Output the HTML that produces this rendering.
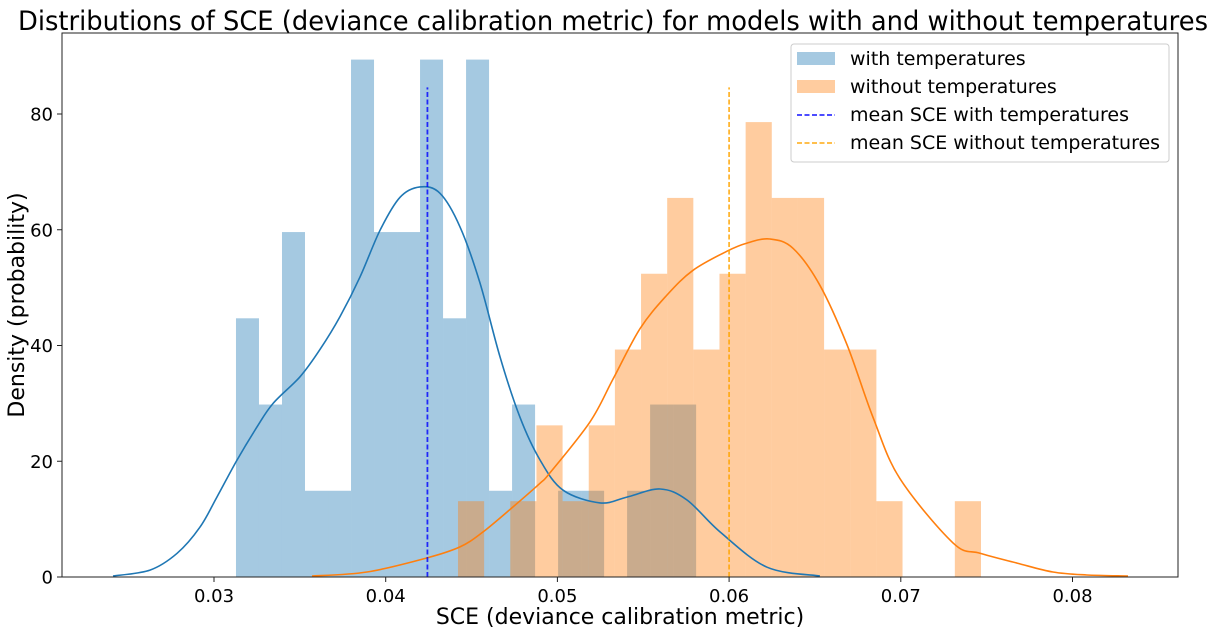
<!DOCTYPE html>
<html><head><meta charset="utf-8">
<style>
html,body{margin:0;padding:0;background:#fff;width:1229px;height:634px;overflow:hidden}
svg{display:block;font-family:"DejaVu Sans","Liberation Sans",sans-serif}
</style></head>
<body>
<svg id="chart" width="1229" height="634" viewBox="0 0 1229 634" xmlns="http://www.w3.org/2000/svg">
  <text x="613" y="30" font-size="27" text-anchor="middle" textLength="1190" lengthAdjust="spacingAndGlyphs" fill="#000">Distributions of SCE (deviance calibration metric) for models with and without temperatures</text>
  <g id="plot"></g>
  <text x="620" y="624" font-size="22" text-anchor="middle" fill="#000">SCE (deviance calibration metric)</text>
  <text x="0" y="0" font-size="22" text-anchor="middle" fill="#000" transform="translate(24,305) rotate(-90)">Density (probability)</text>
  <g>
    <rect x="791" y="44" width="378" height="118" rx="3" fill="#fff" fill-opacity="0.8" stroke="#ccc" stroke-width="1"/>
    <rect x="797" y="52" width="38" height="13" fill="#1f77b4" fill-opacity="0.4"/>
    <text x="850" y="65" font-size="19">with temperatures</text>
    <rect x="797" y="80" width="38" height="13" fill="#ff7f0e" fill-opacity="0.4"/>
    <text x="850" y="93" font-size="19">without temperatures</text>
    <line x1="797" y1="115" x2="835" y2="115" stroke="blue" stroke-width="1.8" stroke-dasharray="5,2.5" opacity="0.8"/>
    <text x="850" y="121" font-size="19">mean SCE with temperatures</text>
    <line x1="797" y1="143" x2="835" y2="143" stroke="orange" stroke-width="1.8" stroke-dasharray="5,2.5" opacity="0.8"/>
    <text x="850" y="149" font-size="19">mean SCE without temperatures</text>
  </g>
</svg>
<script>
const blueStart = 0.03128;
const blueBinWidth = 0.00134;
const blueHeights = [44.7,29.8,59.6,14.9,14.9,89.4,59.6,59.6,89.4,44.7,89.4,14.9,29.8,0,14.9,14.9,0,14.9,29.8,29.8];
const orangeStart = 0.04421;
const orangeBinWidth = 0.001523;
const orangeHeights = [13.1,0,13.1,26.2,13.1,26.2,39.3,52.4,65.5,39.3,52.4,78.6,65.5,65.5,39.3,39.3,13.1,0,0,13.1];
const blueKdeX = [0.02412,0.02627,0.02785,0.02918,0.03017,0.03134,0.03250,0.03344,0.03501,0.03617,0.03734,0.03850,0.03967,0.04083,0.04200,0.04316,0.04433,0.04549,0.04666,0.04782,0.04899,0.05033,0.05248,0.05405,0.05598,0.05755,0.05947,0.06221,0.06529];
const blueKdeY = [0.17,1.2,4.1,8.6,13.8,20.2,25.9,30.0,34.6,39.3,45.0,51.8,59.9,65.6,67.4,66.3,60.5,50.8,38.0,27.6,20.2,15.0,12.8,13.8,15.2,13.3,7.8,1.7,0.17];
const orangeKdeX = [0.03571,0.03891,0.04241,0.04433,0.04567,0.04741,0.04899,0.04957,0.05190,0.05324,0.05481,0.05638,0.05790,0.05988,0.06104,0.06238,0.06372,0.06529,0.06687,0.06838,0.06995,0.07304,0.07461,0.07677,0.07886,0.08084,0.08323];
const orangeKdeY = [0.17,0.86,3.3,5.2,7.8,12.1,16.2,18.0,26.8,34.2,42.9,48.7,53.0,56.3,57.7,58.4,56.8,50.4,40.1,27.6,17.0,5.9,4.1,2.4,0.86,0.35,0.17];
const meanWith = 0.04243;
const meanWithout = 0.06;
const meanLineTop = 84.6;
const xTicks = [0.03,0.04,0.05,0.06,0.07,0.08];
const xTickLabels = ["0.03","0.04","0.05","0.06","0.07","0.08"];
const yTicks = [0,20,40,60,80];
const yTickLabels = ["0","20","40","60","80"];

const L=62,R=1178,T=33,B=577;
function xs(v){return 214+(v-0.03)*17170;}
function ys(v){return B-v*5.7875;}
const NS="http://www.w3.org/2000/svg";
const g=document.getElementById('plot');
function mk(tag,attrs){const e=document.createElementNS(NS,tag);for(const k in attrs)e.setAttribute(k,attrs[k]);g.appendChild(e);return e;}

blueHeights.forEach((h,i)=>{
  const x0=xs(blueStart+i*blueBinWidth),x1=xs(blueStart+(i+1)*blueBinWidth);
  const r=mk('rect',{x:x0,y:ys(h),width:x1-x0,height:B-ys(h),fill:'#1f77b4','fill-opacity':0.4});
  
  
});
orangeHeights.forEach((h,i)=>{
  const x0=xs(orangeStart+i*orangeBinWidth),x1=xs(orangeStart+(i+1)*orangeBinWidth);
  const r=mk('rect',{x:x0,y:ys(h),width:x1-x0,height:B-ys(h),fill:'#ff7f0e','fill-opacity':0.4});
  
  
});
function kde(xa,ya,color,name){
  const P=xa.map((x,i)=>[xs(x),ys(ya[i])]);
  let d='M'+P[0][0].toFixed(1)+','+P[0][1].toFixed(1);
  for(let i=0;i<P.length-1;i++){
    const p0=P[Math.max(i-1,0)],p1=P[i],p2=P[i+1],p3=P[Math.min(i+2,P.length-1)];
    const c1=[p1[0]+(p2[0]-p0[0])/6,p1[1]+(p2[1]-p0[1])/6];
    const c2=[p2[0]-(p3[0]-p1[0])/6,p2[1]-(p3[1]-p1[1])/6];
    d+=' C'+c1[0].toFixed(1)+','+c1[1].toFixed(1)+' '+c2[0].toFixed(1)+','+c2[1].toFixed(1)+' '+p2[0].toFixed(1)+','+p2[1].toFixed(1);
  }
  const p=mk('path',{d:d,fill:'none',stroke:color,'stroke-width':1.6,'stroke-linejoin':'round'});
  
  
}
kde(blueKdeX,blueKdeY,'#1f77b4','kde-with-temperatures');
kde(orangeKdeX,orangeKdeY,'#ff7f0e','kde-without-temperatures');
const m1=mk('line',{x1:xs(meanWith),x2:xs(meanWith),y1:B,y2:ys(meanLineTop),stroke:'blue','stroke-width':1.8,'stroke-dasharray':'5,2.5',opacity:0.8});


const m2=mk('line',{x1:xs(meanWithout),x2:xs(meanWithout),y1:B,y2:ys(meanLineTop),stroke:'orange','stroke-width':1.8,'stroke-dasharray':'5,2.5',opacity:0.8});



const frame=mk('rect',{x:L,y:T,width:R-L,height:B-T,fill:'none',stroke:'#222','stroke-width':1});


xTicks.forEach((v,i)=>{
  const x=xs(v);
  const t=mk('line',{x1:x,x2:x,y1:B,y2:B+5,stroke:'#222'});
  
  
  const l=mk('text',{x:x,y:B+25,'font-size':18,'text-anchor':'middle'});
  l.textContent=xTickLabels[i];
  
  
});
yTicks.forEach((v,i)=>{
  const y=ys(v);
  const t=mk('line',{x1:L-5,x2:L,y1:y,y2:y,stroke:'#222'});
  
  
  const l=mk('text',{x:L-9,y:y+6.5,'font-size':18,'text-anchor':'end'});
  l.textContent=yTickLabels[i];
  
  
});
</script>
</body></html>
